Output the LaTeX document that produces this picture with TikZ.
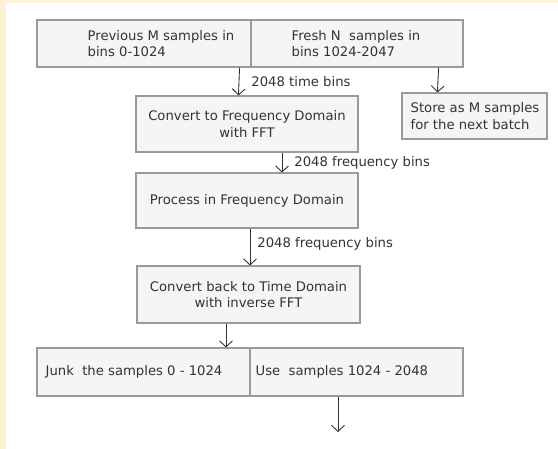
\documentclass[tikz,border=0pt]{standalone}
\usepackage{fontspec}
\setmainfont{DejaVu Sans}
\usepackage{xcolor}
\usetikzlibrary{arrows.meta,positioning}
\definecolor{edge}{HTML}{9A9A9A}
\definecolor{boxbg}{HTML}{F5F5F5}
\definecolor{ink}{HTML}{333333}
\definecolor{strip}{HTML}{FFF2D4}

\begin{document}
\begin{tikzpicture}[
    x=1pt, y=-1pt,
    font=\fontsize{13.2}{16.5}\selectfont,
    box/.style={draw=edge, fill=boxbg, line width=1.1pt, inner sep=0pt,
    text=ink, align=center},
    txt/.style={inner sep=0pt, align=left, text=ink},
    arr/.style={-{Straight Barb[length=6pt,width=13pt]}, draw=ink, line width=0.9pt},
    lbl/.style={right, inner sep=0pt, text=ink}
]
% page with the strip at the top and left
\fill[white] (0,0) rectangle (558,449);
\fill[strip] (0,0) rectangle (6,449);
\fill[strip] (0,0) rectangle (558,3);
\useasboundingbox (0,0) rectangle (558,449);

% input batch
\node[box, minimum width=214pt, minimum height=47pt] (prev) at (144,43.5) {};
\node[box, minimum width=212pt, minimum height=47pt] (fresh) at (357,43.5) {};
\node[txt, right=51pt of prev.west] (prevtxt) {Previous M samples in\\bins 0-1024};
\node[txt, right=41pt of fresh.west] (freshtxt) {Fresh N\ \ samples in\\bins 1024-2047};
\node[box, minimum width=145pt, minimum height=46pt] (store) at (474.5,116) {};
\node[txt, right=9pt of store.west] (storetxt) {Store as M samples\\for the next batch};

% processing chain
\node[box, minimum width=222pt, minimum height=56pt] (fft) at (247,124)
    {Convert to Frequency Domain\\with FFT};
\node[box, minimum width=222pt, minimum height=55pt] (proc) at (247,200.5)
    {Process in Frequency Domain};
\node[box, minimum width=223pt, minimum height=57pt] (ifft) at (248.5,294.5)
    {Convert back to Time Domain\\with inverse FFT};

% output batch
\node[box, minimum width=213pt, minimum height=48pt] (junk) at (143.5,372) {};
\node[box, minimum width=213pt, minimum height=48pt] (use) at (356.5,372) {};
\node[txt, right=9pt of junk.west] (junktxt) {Junk\ \ the samples 0 - 1024};
\node[txt, right=6pt of use.west] (usetxt) {Use\ \ samples 1024 - 2048};
\coordinate (out) at (338,432);

\draw[arr] ([xshift=-12pt]prev.south east) -- ([xshift=103pt]fft.north west)
    node[lbl, midway, xshift=12pt] {2048 time bins};
\draw[arr] ([xshift=-25pt]fresh.south east) -- ([xshift=36pt]store.north west);
\draw[arr] ([xshift=35pt]fft.south) -- ([xshift=35pt]proc.north)
    node[lbl, midway, xshift=12pt] {2048 frequency bins};
\draw[arr] ([xshift=3pt]proc.south) -- ([xshift=1.5pt]ifft.north)
    node[lbl, pos=0.42, xshift=7pt] {2048 frequency bins};
\draw[arr] ([xshift=-22.5pt]ifft.south) -- ([xshift=82.5pt]junk.north);
\draw[arr] ([xshift=-18.5pt]use.south) -- (out);
\end{tikzpicture}
\end{document}
